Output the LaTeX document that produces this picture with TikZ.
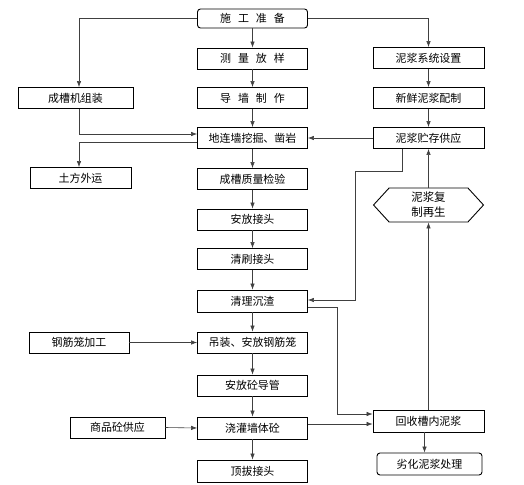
\documentclass[tikz,border=0pt]{standalone}
\usepackage{fontspec}
\setmainfont{Noto Sans CJK SC}
\usepackage{tikz}
\usetikzlibrary{arrows.meta,shapes.symbols}

\begin{document}
\begin{tikzpicture}[x=1bp, y=-1bp,
  box/.style={draw, line width=0.9pt, minimum height=21bp, inner sep=0pt, font=\fontsize{11}{12}\selectfont},
  mid/.style={box, minimum width=110bp},
  side/.style={box, minimum width=111bp},
  arr/.style={draw=black!75, line width=0.6pt, -{Latex[length=6bp,width=4.5bp]}}]
\useasboundingbox (0,0) rectangle (524,485);
\node [mid, rounded corners=3bp, minimum height=19bp] (prep) at (252.5,18.5) {施\hspace{7bp}工\hspace{7bp}准\hspace{7bp}备};
\node [mid] (survey) at (252.5,58.5) {测\hspace{7bp}量\hspace{7bp}放\hspace{7bp}样};
\node [mid] (guide) at (252.5,98) {导\hspace{7bp}墙\hspace{7bp}制\hspace{7bp}作};
\node [mid] (dig) at (252.5,138) {地连墙挖掘、凿岩};
\node [mid] (check) at (252.5,179) {成槽质量检验};
\node [mid] (joint) at (252.5,219.5) {安放接头};
\node [mid] (brush) at (252.5,259) {清刷接头};
\node [mid, minimum height=22bp] (clean) at (252.5,301) {清理沉渣};
\node [mid] (cage) at (252.5,342.5) {吊装、安放钢筋笼};
\node [mid] (pipe) at (252.5,385.5) {安放砼导管};
\node [mid, minimum height=22bp] (pour) at (252.5,428) {浇灌墙体砼};
\node [mid, minimum height=22bp] (pull) at (252.5,471) {顶拔接头};
\node [box, minimum width=115bp] (machine) at (75.5,98) {成槽机组装};
\node [box, minimum width=101bp] (soil) at (80.5,178) {土方外运};
\node [box, minimum width=100bp] (rebar) at (79,342.5) {钢筋笼加工};
\node [box, minimum width=95bp] (concrete) at (117.5,427.5) {商品砼供应};
\node [side] (mudsys) at (428.5,58) {泥浆系统设置};
\node [side] (fresh) at (428.5,98) {新鲜泥浆配制};
\node [side] (store) at (428.5,138) {泥浆贮存供应};
\node [box, signal, signal to=east and west, signal pointer angle=95, minimum width=110bp, minimum height=34bp, align=center, font=\fontsize{11.5}{15}\selectfont] (regen) at (428.5,205) {泥浆复\\制再生};
\node [side, minimum height=22bp] (recover) at (428.5,421) {回收槽内泥浆};
\node [box, rounded corners=3bp, minimum width=105bp, minimum height=22bp] (waste) at (429.5,464) {劣化泥浆处理};
\coordinate (pourout) at ([yshift=4bp]pour.east);
\foreach \a/\b in {prep/survey, survey/guide, guide/dig, dig/check, check/joint, joint/brush, brush/clean, clean/cage, cage/pipe, pipe/pour, pour/pull, mudsys/fresh, fresh/store}
  \draw [arr] (\a.south) -- (\b.north);
\draw [arr] (prep.west) -| ([xshift=3.5bp]machine.north);
\draw [arr] (prep.east) -| (mudsys.north);
\draw [arr] ([xshift=3.5bp]machine.south) |- ([yshift=4bp]dig.west);
\draw [arr] ([yshift=-4bp]dig.west) -| ([xshift=-1.5bp]soil.north);
\draw [arr] (store.west) -- (dig.east);
\draw [arr] (regen.north) -- (store.south);
\draw [arr] (recover.north) -- (regen.south);
\draw [arr] ([xshift=-26.5bp]store.south) -- ++(0,22) -- ++(-47,0) |- ([yshift=1bp]clean.east);
\draw [arr] ([yshift=-6bp]clean.east) -- ++(29.5,0) |- ([yshift=7bp]recover.west);
\draw [arr] (pourout) -- (pourout -| recover.west);
\draw [arr] ([xshift=-4bp]recover.south) -- ([xshift=-5bp]waste.north);
\draw [arr] (rebar.east) -- (cage.west);
\draw [arr] (concrete.east) -- (pour.west);
\end{tikzpicture}
\end{document}
